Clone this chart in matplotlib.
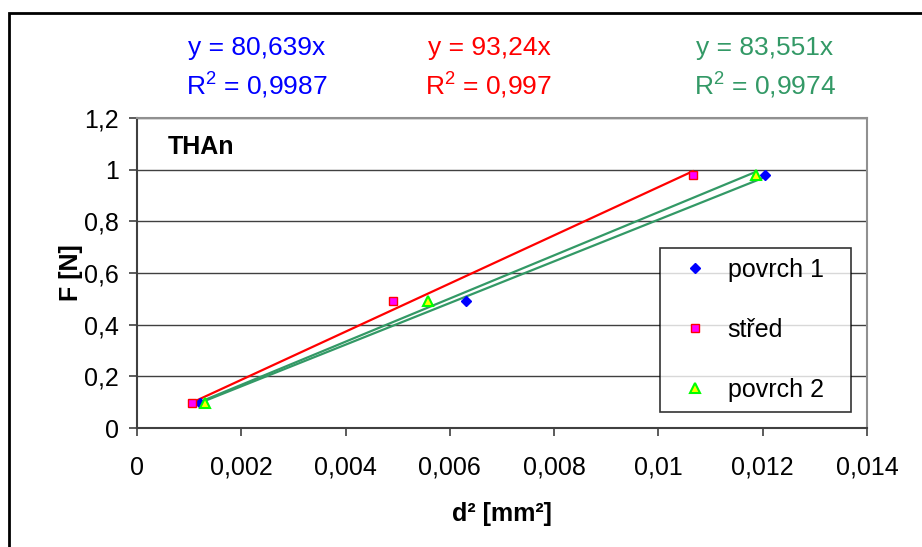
import numpy as np
import matplotlib
matplotlib.use('Agg')
import matplotlib.pyplot as plt
from matplotlib.ticker import FuncFormatter, MultipleLocator
from matplotlib.patches import Rectangle

plt.rcParams['font.family'] = ['Liberation Sans', 'DejaVu Sans']
plt.rcParams['mathtext.fontset'] = 'custom'
plt.rcParams['mathtext.rm'] = 'Liberation Sans'
plt.rcParams['mathtext.it'] = 'Liberation Sans'

# data
F = [0.0981, 0.4905, 0.981]
d2_povrch1 = [0.00121, 0.00631, 0.01204]
d2_stred = [0.00105, 0.00491, 0.01066]
d2_povrch2 = [0.00130, 0.00558, 0.01187]

slope_povrch1 = 80.639
slope_stred = 93.24
slope_povrch2 = 83.551
r2_labels = ['0,9987', '0,997', '0,9974']

fig = plt.figure(figsize=(9.22, 5.47), dpi=100)
ax = fig.add_axes([137/922, 1-428/547, 730/922, 310/547])

# trendlines (through origin, over the data range)
def trend(xs, k, col):
    xx = np.array([min(xs), max(xs)])
    ax.plot(xx, k*xx, color=col, lw=1.6, zorder=2)

trend(d2_povrch1, slope_povrch1, '#339966')
trend(d2_stred, slope_stred, '#ff0000')
trend(d2_povrch2, slope_povrch2, '#339966')

ax.plot(d2_povrch1, F, 'D', ms=5, color='#0000ff', mec='#0000ff', ls='none', label='povrch 1', zorder=3)
ax.plot(d2_stred, F, 's', ms=5.5, color='#ff00ff', mec='#ff0000', mew=1, ls='none', label='střed', zorder=3)
ax.plot(d2_povrch2, F, '^', ms=6.5, color='#ffff00', mec='#00ff00', mew=1.5, ls='none', label='povrch 2', zorder=3)

ax.set_xlim(0, 0.014)
ax.set_ylim(0, 1.2)
ax.xaxis.set_major_locator(MultipleLocator(0.002))
ax.yaxis.set_major_locator(MultipleLocator(0.2))
comma = FuncFormatter(lambda v, p: ('%g' % round(v, 6)).replace('.', ','))
ax.xaxis.set_major_formatter(comma)
ax.yaxis.set_major_formatter(comma)
ax.tick_params(labelsize=18, length=6, width=1.2, color='#404040')
ax.tick_params(axis='x', pad=14)
ax.tick_params(axis='y', pad=7)
ax.grid(axis='y', color='#404040', lw=1)
ax.set_axisbelow(True)
for s in ['left', 'bottom']:
    ax.spines[s].set_color('#404040')
    ax.spines[s].set_linewidth(1.5)
for s in ['top', 'right']:
    ax.spines[s].set_color('#909090')
    ax.spines[s].set_linewidth(1.5)

ax.set_xlabel('d² [mm²]', fontsize=18, fontweight='bold', labelpad=16)
ax.set_ylabel('F [N]', fontsize=18, fontweight='bold', va='center')
ax.yaxis.set_label_coords(-0.09, 0.5)

ax.text(0.042, 0.905, 'THAn', transform=ax.transAxes, fontsize=18, fontweight='bold', va='center')

leg = ax.legend(loc='lower left', bbox_to_anchor=(660/922, 1-412/547, 191/922, 170/547),
                bbox_transform=fig.transFigure, mode='expand', borderaxespad=0,
                fontsize=18, frameon=True, fancybox=False, labelspacing=1.45,
                handletextpad=0.3, handlelength=2.0, borderpad=0.4)
leg.get_frame().set_edgecolor('black')
leg.get_frame().set_linewidth(1.2)

# regression equations
eqs = [(257, 'y = 80,639x', r2_labels[0], '#0000ff'),
       (489, 'y = 93,24x', r2_labels[1], '#ff0000'),
       (765, 'y = 83,551x', r2_labels[2], '#339966')]
for xc, e, r, c in eqs:
    fig.text(xc/922, 1-48/547, e, color=c, fontsize=19, ha='center', va='center')
    fig.text(xc/922, 1-86/547, r'R$^2$ = ' + r, color=c, fontsize=19, ha='center', va='center')

fig.patches.append(Rectangle((9/922, -0.1), 1.0, 1-13/547+0.1, transform=fig.transFigure,
                             fill=False, edgecolor='black', lw=2))

fig.savefig('out.png', dpi=100)
